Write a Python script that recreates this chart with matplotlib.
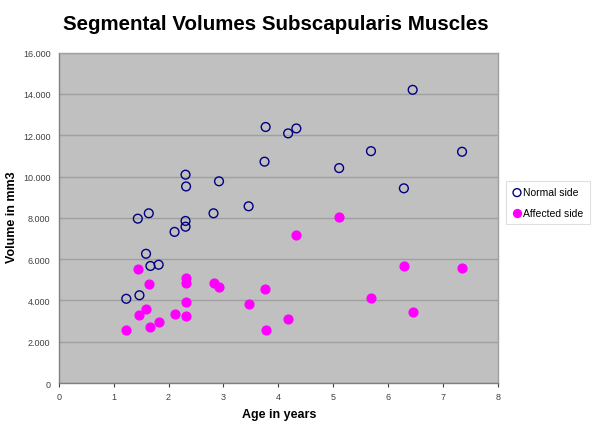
import matplotlib
matplotlib.use("Agg")
import matplotlib.pyplot as plt
from matplotlib.ticker import FuncFormatter

plt.rcParams['font.family'] = ['Liberation Sans', 'DejaVu Sans']

# Normal side
normal_age = [1.23, 1.47, 1.59, 1.67, 1.82, 2.11, 1.44, 1.64, 2.31, 2.31, 2.31, 2.32,
              2.92, 2.82, 3.46, 3.75, 3.77, 4.18, 4.33, 5.11, 5.69, 6.29, 6.45, 7.35]
normal_vol = [4080, 4250, 6260, 5670, 5730, 7320, 7960, 8220, 7850, 7570, 10090, 9520,
              9770, 8220, 8560, 10720, 12400, 12090, 12330, 10410, 11230, 9430, 14200, 11200]

# Affected side
affected_age = [1.23, 1.44, 1.47, 1.59, 1.64, 1.67, 1.82, 2.11, 2.31, 2.31, 2.32, 2.31,
                2.82, 2.92, 3.46, 3.75, 3.77, 4.18, 4.33, 5.11, 5.69, 6.29, 6.45, 7.35]
affected_vol = [2580, 5510, 3290, 3570, 4810, 2700, 2940, 3340, 5090, 4860, 3920, 3250,
                4860, 4660, 3840, 4540, 2550, 3080, 7150, 8020, 4100, 5680, 3440, 5580]

fig = plt.figure(figsize=(6, 4.31), dpi=100)
ax = fig.add_axes([0.098, 0.109, 0.7315, 0.7665])
ax.set_facecolor('#c0c0c0')

ax.scatter(normal_age, normal_vol, s=40, facecolors='none', edgecolors='#000080',
           linewidths=1.0, label='Normal side', zorder=3)
ax.scatter(affected_age, affected_vol, s=40, color='#ff00ff', label='Affected side', zorder=3)

ax.set_xlim(0, 8)
ax.set_ylim(0, 16000)
ax.set_xticks(range(0, 9))
ax.set_yticks(range(0, 16001, 2000))
ax.yaxis.set_major_formatter(FuncFormatter(lambda v, p: '0' if v == 0 else f'{int(v):,}'.replace(',', '.')))
ax.grid(axis='y', color='#a0a0a0', linewidth=1)
ax.set_axisbelow(True)

for s in ax.spines.values():
    s.set_color('#a0a0a0')
    s.set_linewidth(1)
ax.spines['left'].set_color('#808080')
ax.spines['bottom'].set_color('#808080')
ax.tick_params(axis='both', labelsize=6.5, colors='#404040', length=3, width=0.8)
ax.tick_params(axis='y', length=0, pad=6)

ax.set_xlabel('Age in years', fontsize=9, fontweight='bold')
ax.xaxis.set_label_coords(0.501, -0.075)
ax.set_ylabel('Volume in mm3', fontsize=9, fontweight='bold')
ax.yaxis.set_label_coords(-0.0935, 0.505)
fig.suptitle('Segmental Volumes Subscapularis Muscles', fontsize=14.8, fontweight='bold',
             x=0.46, y=0.965)

leg = ax.legend(loc='upper left', bbox_to_anchor=(1.006, 0.627), fontsize=7.5, frameon=True,
                fancybox=False, edgecolor='#d8d8d8', handletextpad=0.1, borderpad=0.6,
                handlelength=1.0, labelspacing=1.0, markerscale=0.9)
leg.get_frame().set_linewidth(0.8)

fig.savefig('out.png', dpi=100)
